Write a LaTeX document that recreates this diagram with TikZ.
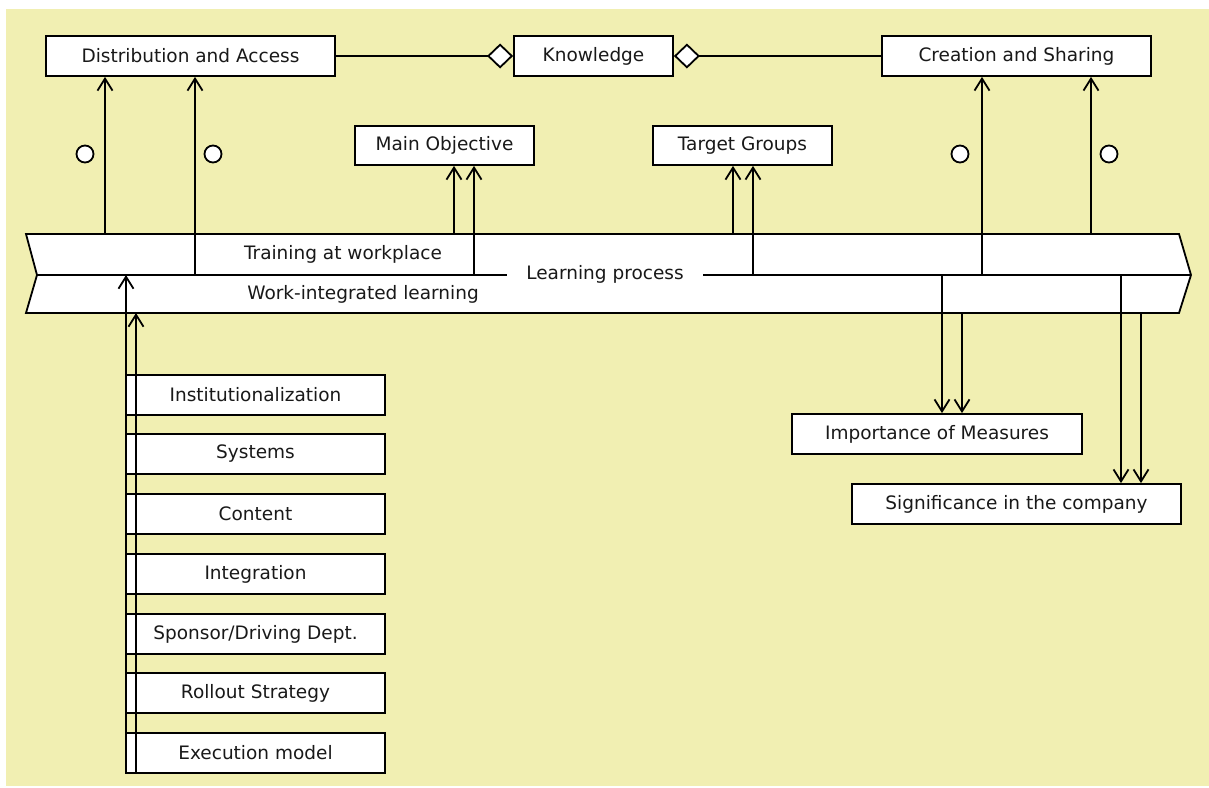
\documentclass[tikz,border=0pt]{standalone}
\usepackage{fontspec}
\setmainfont{DejaVu Sans}
\usetikzlibrary{arrows.meta}
\definecolor{bgyellow}{RGB}{241,239,178}
\definecolor{txt}{RGB}{25,25,25}
\begin{document}
\begin{tikzpicture}[x=1pt,y=-1pt,
  line width=1.8pt,
  every node/.style={font=\fontsize{18.5}{22}\selectfont, text=txt},
  box/.style={draw, fill=white, inner sep=0pt, minimum height=40pt},
  arr/.style={-{Straight Barb[length=12pt,width=15pt]}},
  agg/.style={-{Diamond[length=26pt,width=25pt,fill=white]}},
  ring/.style={circle, draw, fill=white, minimum size=17pt, inner sep=0pt},
  bandtext/.style={inner sep=0pt}
]
\useasboundingbox (0,0) rectangle (1209,787);
\fill[bgyellow] (6,9) rectangle (1209,786);

% Learning process band
\draw[fill=white] (26,234) -- (1179,234) -- (1191,275) -- (1179,313) -- (26,313) -- (37,275) -- cycle;
\draw (37,275) -- (1191,275);
\node[bandtext] (train) at (343,254) {Training at workplace};
\node[bandtext] (wil) at (363,294) {Work-integrated learning};
\node[fill=white, inner xsep=19pt, inner ysep=3pt] (lp) at (605,274) {Learning process};

% top boxes
\node[box, minimum width=289pt] (dist) at (190.5,56) {Distribution and Access};
\node[box, minimum width=159pt] (know) at (593.5,56) {Knowledge};
\node[box, minimum width=269pt] (crea) at (1016.5,56) {Creation and Sharing};
\node[box, minimum width=179pt, minimum height=39pt] (mobj) at (444.5,145.5) {Main Objective};
\node[box, minimum width=179pt, minimum height=39pt] (tgrp) at (742.5,145.5) {Target Groups};

% bottom right boxes
\node[box, minimum width=290pt] (imp) at (937,434) {Importance of Measures};
\node[box, minimum width=329pt] (sig) at (1016.5,504) {Significance in the company};

% left stack
\node[box, minimum width=259pt] (b1) at (255.5,395) {Institutionalization};
\node[box, minimum width=259pt] (b2) at (255.5,454) {Systems};
\node[box, minimum width=259pt] (b3) at (255.5,514) {Content};
\node[box, minimum width=259pt] (b4) at (255.5,574) {Integration};
\node[box, minimum width=259pt] (b5) at (255.5,634) {Sponsor/Driving Dept.};
\node[box, minimum width=259pt] (b6) at (255.5,693) {Rollout Strategy};
\node[box, minimum width=259pt] (b7) at (255.5,753) {Execution model};

% aggregation
\draw[agg] (dist.east) -- (know.west);
\draw[agg] (crea.west) -- (know.east);

% rings
\node[ring] (r1) at (85,154) {};
\node[ring] (r2) at (213,154) {};
\node[ring] (r3) at (960,154) {};
\node[ring] (r4) at (1109,154) {};

% connector start points on the band
\coordinate (p1) at (105,234);
\coordinate (p2) at (195,275);
\coordinate (p3) at (454,234);
\coordinate (p4) at (474,275);
\coordinate (p5) at (733,234);
\coordinate (p6) at (753,275);
\coordinate (p7) at (982,275);
\coordinate (p8) at (1091,234);
\coordinate (q1) at (942,275);
\coordinate (q2) at (962,313);
\coordinate (q3) at (1121,275);
\coordinate (q4) at (1141,313);
\coordinate (t1) at (126,275);
\coordinate (t2) at (136,313);
\coordinate (s1) at (126,773);
\coordinate (s2) at (136,773);

\draw[arr] (p1) -- (p1 |- dist.south);
\draw[arr] (p2) -- (p2 |- dist.south);
\draw[arr] (p3) -- (p3 |- mobj.south);
\draw[arr] (p4) -- (p4 |- mobj.south);
\draw[arr] (p5) -- (p5 |- tgrp.south);
\draw[arr] (p6) -- (p6 |- tgrp.south);
\draw[arr] (p7) -- (p7 |- crea.south);
\draw[arr] (p8) -- (p8 |- crea.south);
\draw[arr] (q1) -- (q1 |- imp.north);
\draw[arr] (q2) -- (q2 |- imp.north);
\draw[arr] (q3) -- (q3 |- sig.north);
\draw[arr] (q4) -- (q4 |- sig.north);
\draw[arr] (s1) -- (t1);
\draw[arr] (s2) -- (t2);
\end{tikzpicture}
\end{document}
